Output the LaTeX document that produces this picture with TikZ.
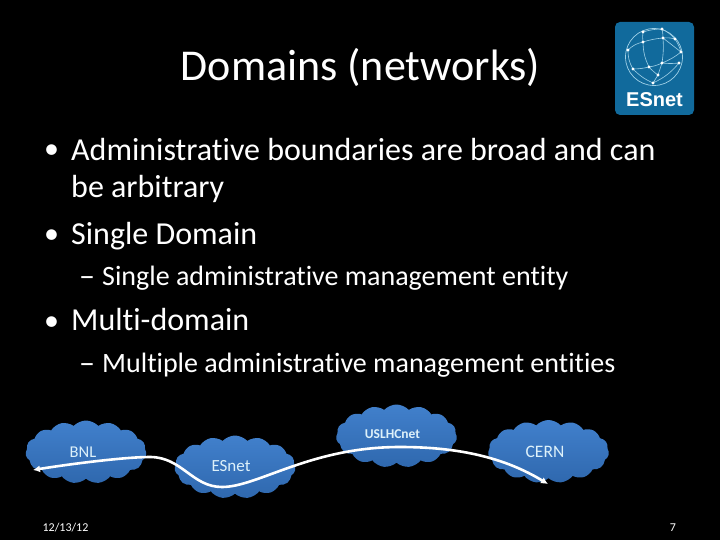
\documentclass[tikz,border=0pt]{standalone}
\usepackage{fontspec}
\setmainfont[Ligatures=NoCommon]{Carlito}
\newfontfamily\logofont{Liberation Sans}
\usetikzlibrary{shapes.symbols,arrows.meta}
\definecolor{slideblue}{HTML}{4180CC}
\definecolor{slidedeep}{HTML}{2F68AE}
\definecolor{logoblue}{HTML}{116A9C}
\definecolor{globeline}{HTML}{9FD0E6}
\definecolor{cloudtext}{HTML}{DDF1FA}
\tikzset{
  bigline/.style={anchor=base west, text=white, font=\fontsize{32}{38}\selectfont, inner sep=0pt},
  subline/.style={anchor=base west, text=white, font=\fontsize{28}{33}\selectfont, inner sep=0pt},
  bulletmark/.style={anchor=base west, text=white, font=\fontsize{30}{36}\selectfont, inner sep=0pt},
  dashmark/.style={anchor=base west, text=white, font=\fontsize{32}{38}\selectfont, inner sep=0pt},
  netcloud/.style={cloud, cloud puffs=15, cloud puff arc=95, aspect=2, top color=slideblue, bottom color=slidedeep,
    minimum width=121pt, minimum height=63pt, inner sep=0pt},
  netname/.style={text=cloudtext, inner sep=0pt},
  smallline/.style={text=white, font=\fontsize{12}{15}\selectfont, inner sep=0pt}
}
\begin{document}
\begin{tikzpicture}[x=1pt,y=-1pt]
  \fill[black] (0,0) rectangle (720,540);
  \useasboundingbox (0,0) rectangle (720,540);
  % slide text
  \node[anchor=base, text=white, font=\fontsize{44}{52}\selectfont, inner sep=0pt] (title) at (360.5,81) {Domains (networks)};
  \node[bulletmark] (dot1) at (44,159) {\textbullet};
  \node[bigline] (line1) at (71,160.5) {Administrative boundaries are broad and can};
  \node[bigline] (line1b) at (71,198) {be arbitrary};
  \node[bulletmark] (dot2) at (44,243.5) {\textbullet};
  \node[bigline] (line2) at (71,244.5) {Single Domain};
  \node[dashmark] (dash3) at (79,286) {\textendash};
  \node[subline] (line3) at (102,285) {Single administrative management entity};
  \node[bulletmark] (dot4) at (44,330) {\textbullet};
  \node[bigline] (line4) at (71,330.5) {Multi-domain};
  \node[dashmark] (dash5) at (79,373) {\textendash};
  \node[subline] (line5) at (102,372) {Multiple administrative management entities};
  % logo
  \fill[logoblue, rounded corners=5pt] (615,22) rectangle (694,115);
  \draw[globeline, line width=0.7pt] (654,57) circle (28.5);
  \coordinate (g1) at (643,32);   \coordinate (g2) at (662,29);
  \coordinate (g3) at (675,39);   \coordinate (g4) at (643,42);
  \coordinate (g5) at (663,38);   \coordinate (g6) at (681,52);
  \coordinate (g7) at (628,50);   \coordinate (g8) at (679,63);
  \coordinate (g9) at (633,69);   \coordinate (g10) at (649,67);
  \coordinate (g11) at (662,63);  \coordinate (g12) at (658,75);
  \coordinate (g13) at (653,83);
  \draw[globeline, line width=0.6pt] (g7) to[bend left=15] (g4) to[bend left=6] (g5) to[bend left=10] (g3)
    (g1) to[bend left=8] (g2) to[bend left=10] (g3) to[bend left=8] (g6)
    (g1) to[bend right=8] (g4) to[bend right=12] (g10) to[bend right=6] (g12) to (g13)
    (g2) to[bend left=6] (g5) to[bend left=6] (g11) to (g12)
    (g9) to[bend right=6] (g10) to[bend right=8] (g11) to[bend right=6] (g8)
    (g7) to[bend right=15] (g9) to[bend right=10] (g13)
    (g13) to[bend right=12] (g8) (g6) to[bend left=8] (g11) (g5) to (g6);
  \foreach \g in {1,...,13}
    \fill[white] (g\g) circle (1.6);
  \node[text=white, font=\fontsize{20}{24}\selectfont\logofont\bfseries, inner sep=0pt] (esnetlogo) at (654.5,100) {ESnet};
  % clouds
  \node[netcloud] (bnl) at (86,452) {};
  \node[netcloud] (esnet) at (235,467) {};
  \node[netcloud] (uslhc) at (396.5,436) {};
  \node[netcloud] (cern) at (548.5,451.5) {};
  \node[netname, font=\fontsize{16.5}{20}\selectfont] (bnltext) at (83,452) {BNL};
  \node[netname, font=\fontsize{17}{20}\selectfont] (esnettext) at (231,466) {ESnet};
  \node[netname, font=\fontsize{13.5}{16}\selectfont\bfseries] (uslhctext) at (392.5,434) {USLHCnet};
  \node[netname, font=\fontsize{17.5}{20}\selectfont] (cerntext) at (545,452) {CERN};
  % path across the domains
  \coordinate (pathleft) at (33,470);
  \coordinate (pathright) at (548,484);
  \coordinate (pathbnl) at (150,457);
  \coordinate (pathesnet) at (222,487);
  \coordinate (pathuslhc) at (400,447);
  \draw[white, line width=2.6pt, {Latex[length=7pt,width=7pt]}-{Latex[length=7pt,width=7pt]}]
    (pathleft) .. controls (70,464) and (125,457) .. (pathbnl)
    .. controls (182,457) and (192,487) .. (pathesnet)
    .. controls (258,487) and (310,447) .. (pathuslhc)
    .. controls (460,447) and (505,458) .. (pathright);
  % footer
  \node[smallline] (date) at (65.5,528) {12/13/12};
  \node[smallline] (page) at (673,528) {7};
\end{tikzpicture}
\end{document}
